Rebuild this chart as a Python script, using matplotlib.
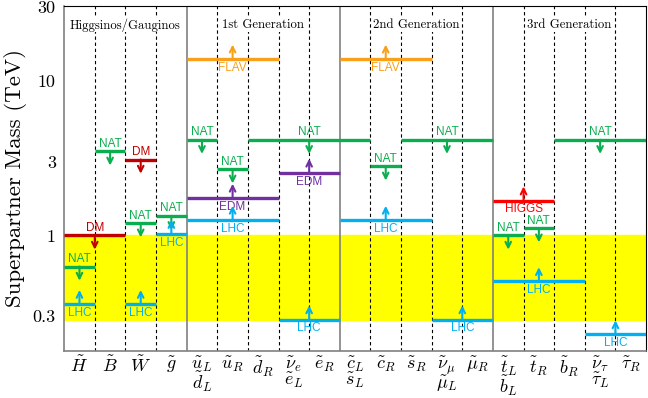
import matplotlib
matplotlib.use('Agg')
import matplotlib.pyplot as plt

plt.rcParams['font.family'] = 'serif'
plt.rcParams['font.serif'] = ['cmr10', 'DejaVu Serif']
plt.rcParams['mathtext.fontset'] = 'cm'
plt.rcParams['axes.formatter.use_mathtext'] = True

# superpartner columns
particles = [r'$\tilde{H}$', r'$\tilde{B}$', r'$\tilde{W}$', r'$\tilde{g}$',
             '$\\tilde{u}_L$\n$\\tilde{d}_L$', r'$\tilde{u}_R$', r'$\tilde{d}_R$',
             '$\\tilde{\\nu}_e$\n$\\tilde{e}_L$', r'$\tilde{e}_R$',
             '$\\tilde{c}_L$\n$\\tilde{s}_L$', r'$\tilde{c}_R$', r'$\tilde{s}_R$',
             '$\\tilde{\\nu}_\\mu$\n$\\tilde{\\mu}_L$', r'$\tilde{\mu}_R$',
             '$\\tilde{t}_L$\n$\\tilde{b}_L$', r'$\tilde{t}_R$', r'$\tilde{b}_R$',
             '$\\tilde{\\nu}_\\tau$\n$\\tilde{\\tau}_L$', r'$\tilde{\tau}_R$']
groups = ['Higgsinos/Gauginos', '1st Generation', '2nd Generation', '3rd Generation']
group_start = [0, 4, 9, 14]
group_end = [4, 9, 14, 19]

# constraints: label, mass (TeV), first column, last column (exclusive), arrow position
labels = ['DM', 'NAT', 'LHC', 'NAT', 'DM', 'NAT', 'LHC', 'NAT', 'LHC',
          'FLAV', 'NAT', 'NAT', 'EDM', 'LHC', 'NAT', 'EDM', 'LHC',
          'FLAV', 'LHC', 'NAT', 'NAT', 'LHC',
          'HIGGS', 'NAT', 'NAT', 'LHC', 'NAT', 'LHC']
masses = [1.0, 0.63, 0.36, 3.5, 3.1, 1.2, 0.36, 1.34, 1.02,
          13.9, 4.16, 2.68, 1.75, 1.26, 4.16, 2.54, 0.286,
          13.9, 1.26, 2.8, 4.16, 0.286,
          1.68, 1.0, 1.115, 0.505, 4.16, 0.229]
col_from = [0, 0, 0, 1, 2, 2, 2, 3, 3,
            4, 4, 5, 4, 4, 6, 7, 7,
            9, 9, 10, 11, 12,
            14, 14, 15, 14, 16, 17]
col_to = [2, 1, 1, 2, 3, 3, 3, 4, 4,
          7, 5, 6, 7, 7, 10, 9, 9,
          12, 12, 11, 14, 14,
          16, 15, 16, 17, 19, 19]
arrow_x = [1, 0.5, 0.5, 1.5, 2.5, 2.5, 2.5, 3.5, 3.5,
           5.5, 4.5, 5.5, 5.5, 5.5, 8, 8, 8,
           10.5, 10.5, 10.5, 12.5, 13,
           15, 14.5, 15.5, 15.5, 17.5, 18]

colors = {'NAT': '#0bae4f', 'DM': '#c00000', 'LHC': '#00b0f0',
          'FLAV': '#f9a01b', 'EDM': '#7030a0', 'HIGGS': '#ff0000'}
upward = {'NAT': False, 'DM': False, 'LHC': True, 'FLAV': True, 'EDM': True, 'HIGGS': True}

fig = plt.figure(figsize=(6.48, 3.98), dpi=100)
ax = fig.add_axes([0.099, 0.119, 0.898, 0.866])
ax.set_yscale('log')
ax.set_xlim(0, 19)
ax.set_ylim(0.18, 30.5)

# natural region band
ax.axhspan(0.286, 1.0, color='#ffff00', zorder=0)

# column separators
for i in range(1, 19):
    if i in group_start:
        ax.axvline(i, color='#808080', lw=1.2, zorder=1)
    else:
        ax.axvline(i, color='black', lw=0.8, ls=(0, (3, 2.5)), zorder=1)

for g, s, e in zip(groups, group_start, group_end):
    ax.text((s + e) / 2, 23, g, ha='center', va='center', fontsize=9.2,
            bbox=dict(facecolor='white', edgecolor='none', pad=0.5), zorder=2)

arrow_len = 1.235
for lab, m, x0, x1, xa in zip(labels, masses, col_from, col_to, arrow_x):
    c = colors[lab]
    ax.hlines(m, x0, x1, color=c, lw=2.4, zorder=3)
    if upward[lab]:
        ax.annotate('', xy=(xa, m * arrow_len), xytext=(xa, m),
                    arrowprops=dict(arrowstyle='->', color=c, lw=1.5,
                                    shrinkA=0, shrinkB=0, mutation_scale=10), zorder=4)
        ax.annotate(lab, xy=(xa, m), xytext=(0, -2), textcoords='offset points',
                    ha='center', va='top', color=c, fontsize=8.5,
                    family='Liberation Sans', zorder=4)
    else:
        ax.annotate('', xy=(xa, m / arrow_len), xytext=(xa, m),
                    arrowprops=dict(arrowstyle='->', color=c, lw=1.5,
                                    shrinkA=0, shrinkB=0, mutation_scale=10), zorder=4)
        ax.annotate(lab, xy=(xa, m), xytext=(0, 1), textcoords='offset points',
                    ha='center', va='bottom', color=c, fontsize=8.5,
                    family='Liberation Sans', zorder=4)

ax.set_yticks([0.3, 1, 3, 10, 30])
ax.set_yticklabels(['0.3', '1', '3', '10', '30'])
ax.yaxis.set_minor_locator(matplotlib.ticker.NullLocator())
ax.set_xticks([i + 0.5 for i in range(19)])
ax.set_xticklabels(particles)
for t in ax.get_xticklabels():
    t.set_linespacing(0.78)
ax.tick_params(axis='both', length=0, labelsize=13)
ax.tick_params(axis='x', pad=3)
ax.tick_params(axis='y', pad=6)
ax.set_ylabel('Superpartner Mass (TeV)', fontsize=16.5, labelpad=4)

for side in ['left', 'bottom']:
    ax.spines[side].set_color('#808080')
    ax.spines[side].set_linewidth(1.2)

fig.savefig('out.png', dpi=100)
